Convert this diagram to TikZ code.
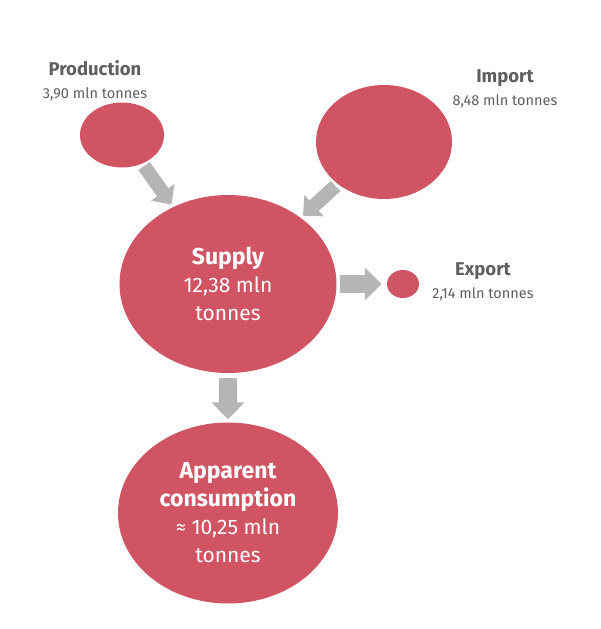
\documentclass[tikz,border=0pt]{standalone}
\usepackage{fontspec}
\setmainfont{Fira Sans}
\usetikzlibrary{shapes.geometric, arrows.meta, positioning}
\definecolor{FlowRed}{RGB}{208, 84, 99}
\definecolor{FlowGray}{RGB}{181, 181, 181}
\definecolor{FlowText}{RGB}{95, 95, 95}
\newcommand{\bigttl}[1]{{\fontsize{23}{28}\selectfont\bfseries #1}}
\newcommand{\smallttl}[1]{{\fontsize{18.5}{23}\selectfont\bfseries #1}}

\begin{document}
\begin{tikzpicture}[
    x=1pt, y=-1pt,
    every node/.style={align=center},
    blob/.style={ellipse, fill=FlowRed, inner sep=0pt, text=white, font=\fontsize{21}{28}\selectfont},
    caption/.style={text=FlowText, font=\fontsize{14.5}{23}\selectfont, inner sep=0pt},
    flow/.style={-{Triangle[length=17pt, width=32pt]}, draw=FlowGray, line width=18pt},
    slant/.style={-{Triangle[length=15pt, width=28pt]}, draw=FlowGray, line width=14pt, shorten <=3pt, shorten >=3pt}
  ]
    \useasboundingbox (0,0) rectangle (601,629);

    % Sources
    \node[blob, minimum width=84pt, minimum height=65pt] (prod) at (122,135) {};
    \node[blob, minimum width=136pt, minimum height=114pt] (imp) at (384,142) {};

    % Supply and uses
    \node[blob, minimum width=217pt, minimum height=178pt] (supply) at (228,284) {\bigttl{Supply}\\12,38 mln\\tonnes};
    \node[blob, minimum width=32pt, minimum height=28pt] (exp) at (403,284) {};
    \node[blob, minimum width=220pt, minimum height=181pt] (cons) at (228,513) {\bigttl{Apparent}\\\bigttl{consumption}\\≈ 10,25 mln\\tonnes};

    % Captions
    \node[caption] (prodlbl) at (95,81) {\smallttl{Production}\\3,90 mln tonnes};
    \node[caption] (implbl) at (505,89) {\smallttl{Import}\\8,48 mln tonnes};
    \node[caption] (explbl) at (483,282) {\smallttl{Export}\\2,14 mln tonnes};

    % Flows
    \draw[slant] (prod) -- (supply);
    \draw[slant] (imp) -- (supply);
    \draw[flow, shorten <=3pt, shorten >=5pt] (supply) -- (exp);
    \draw[flow, shorten <=5pt, shorten >=3pt] (supply) -- (cons);
  \end{tikzpicture}
\end{document}
